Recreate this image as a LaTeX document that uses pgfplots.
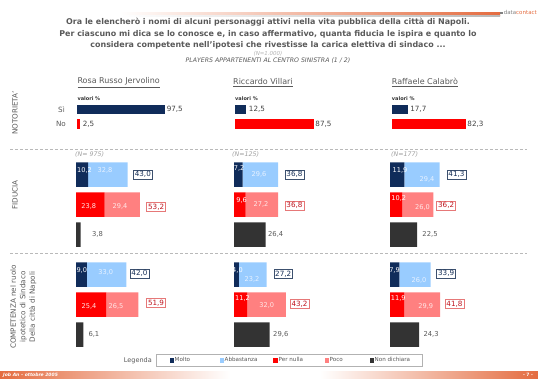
\documentclass[border=0pt]{standalone}
\usepackage{pgfplots}
\pgfplotsset{compat=1.18}
\usepackage{pgfplotstable}
\usepackage{fontspec}
\setmainfont{DejaVu Sans}

\definecolor{navy}{RGB}{16,44,90}
\definecolor{lblue}{RGB}{153,204,255}
\definecolor{pred}{RGB}{255,0,0}
\definecolor{ppink}{RGB}{255,128,128}
\definecolor{dgray}{RGB}{51,51,51}
\definecolor{txtgray}{RGB}{89,89,89}
\definecolor{txtdark}{RGB}{64,64,64}
\definecolor{orng}{RGB}{228,108,64}
\definecolor{bluebox}{RGB}{60,80,110}
\definecolor{bluetxt}{RGB}{20,45,85}
\definecolor{redbox}{RGB}{230,120,120}
\definecolor{redtxt}{RGB}{190,20,30}
\definecolor{lbtxt}{RGB}{232,242,255}
\definecolor{rdtxt}{RGB}{255,228,228}
\definecolor{pktxt}{RGB}{255,232,232}

% Fiducia rows: -174.7 -204.5 -234.5 ; Competenza rows: -274.5 -304.5 -334.5
\pgfplotstableread{
y molto abb nulla poco nd
-174.7 10.2 32.8 0 0 0
-204.5 0 0 23.8 29.4 0
-234.5 0 0 0 0 3.8
-274.5 9.0 33.0 0 0 0
-304.5 0 0 25.4 26.5 0
-334.5 0 0 0 0 6.1
}\jervFC
\pgfplotstableread{
y molto abb nulla poco nd
-174.7 7.2 29.6 0 0 0
-204.5 0 0 9.6 27.2 0
-234.5 0 0 0 0 26.4
-274.5 4.0 23.2 0 0 0
-304.5 0 0 11.2 32.0 0
-334.5 0 0 0 0 29.6
}\villFC
\pgfplotstableread{
y molto abb nulla poco nd
-174.7 11.9 29.4 0 0 0
-204.5 0 0 10.2 26.0 0
-234.5 0 0 0 0 22.5
-274.5 7.9 26.0 0 0 0
-304.5 0 0 11.9 29.9 0
-334.5 0 0 0 0 24.3
}\calaFC
\pgfplotstableread{
y si no
-109.5 97.5 0
-124 0 2.5
}\jervN
\pgfplotstableread{
y si no
-109.5 12.5 0
-124 0 87.5
}\villN
\pgfplotstableread{
y si no
-109.5 17.7 0
-124 0 82.3
}\calaN

\pgfplotsset{
  panel/.style={hide axis, clip=false, xmin=0, xmax=100, ymin=-378, ymax=0,
    x=1.2pt, y=1pt, anchor=north west, xbar stacked, bar width=24.5pt},
  lpanel/.style={hide axis, clip=false, xmin=0, xmax=100, ymin=-378, ymax=0,
    x=1.2pt, y=1pt, anchor=north west},
  npanel/.style={hide axis, clip=false, xmin=0, xmax=100, ymin=-378, ymax=0,
    x=0.9pt, y=1pt, anchor=north west, xbar stacked, bar width=9.5pt},
}
\newcommand{\fcbars}[1]{%
  \addplot[fill=navy, draw=none] table[x=molto, y=y]{#1};
  \addplot[fill=pred, draw=none] table[x=nulla, y=y]{#1};
  \addplot[fill=dgray, draw=none] table[x=nd, y=y]{#1};
  \addplot[fill=lblue, draw=none] table[x=abb, y=y]{#1};
  \addplot[fill=ppink, draw=none] table[x=poco, y=y]{#1};
}
\newcommand{\nbars}[1]{%
  \addplot[fill=navy, draw=none] table[x=si, y=y]{#1};
  \addplot[fill=pred, draw=none] table[x=no, y=y]{#1};
}
\newcommand{\inl}[4]{\node[font=\fontsize{6.6}{7}\selectfont, text=#4, inner sep=0pt] at (axis cs:#1,#2) {#3};}
\newcommand{\bx}[4]{\node[draw=#4box, text=#4txt, fill=white, font=\fontsize{7.2}{8}\selectfont, inner xsep=1.4pt, inner ysep=1.2pt, line width=0.5pt] at (axis cs:#1,#2) {#3};}
\newcommand{\ndl}[3]{\node[anchor=west, font=\fontsize{6.8}{8}\selectfont, text=txtgray, inner sep=0pt] at (axis cs:#1,#2) {#3};}
\newcommand{\nvl}[4]{\node[anchor=west, font=\fontsize{7.2}{8}\selectfont, text=txtdark, inner sep=0pt, xshift=#4] at (axis cs:#1,#2) {#3};}

\begin{document}
\begin{tikzpicture}[x=1pt,y=1pt]
\useasboundingbox (0,0) rectangle (538,-378);

% header band
\shade[left color=white, right color=orng] (120,-12.5) rectangle (500,-15);
\shade[left color=white, right color=gray!55] (120,-15) rectangle (500,-16.5);
\node[anchor=east, font=\fontsize{5.5}{6}\selectfont, inner sep=0pt] at (537,-12) {\textcolor{gray}{\rule{2.5pt}{2.5pt}\,data}\textcolor{orng}{contact}};

% title
\node[font=\fontsize{7.95}{9}\selectfont\bfseries, text=txtgray] at (268,-22.5) {Ora le elencherò i nomi di alcuni personaggi attivi nella vita pubblica della città di Napoli.};
\node[font=\fontsize{7.95}{9}\selectfont\bfseries, text=txtgray] at (268,-34) {Per ciascuno mi dica se lo conosce e, in caso affermativo, quanta fiducia le ispira e quanto lo};
\node[font=\fontsize{7.95}{9}\selectfont\bfseries, text=txtgray] at (268,-45) {considera competente nell’ipotesi che rivestisse la carica elettiva di sindaco ...};
\node[font=\fontsize{5.5}{6}\selectfont\itshape, text=gray!60] at (268,-53.3) {(N=1.000)};
\node[font=\fontsize{6.2}{7}\selectfont\itshape, text=txtgray] at (268,-61) {PLAYERS APPARTENENTI AL CENTRO SINISTRA (1 / 2)};

% column headers
\foreach \xx/\nm in {77.3/Rosa Russo Jervolino, 233/Riccardo Villari, 391.7/Raffaele Calabrò}{
  \node[anchor=west, font=\fontsize{8}{9}\selectfont, text=txtgray, inner sep=0pt] at (\xx,-82.5) {\underline{\nm}};
}
\foreach \xx in {77.3,235,391.7}{
  \node[anchor=west, font=\fontsize{5}{6}\selectfont\bfseries, text=black!80, inner sep=0pt] at (\xx,-98.3) {valori \%};
}
\node[anchor=east, font=\fontsize{7.2}{8}\selectfont, text=txtgray, inner sep=0pt] at (65,-109.5) {Sì};
\node[anchor=east, font=\fontsize{7.2}{8}\selectfont, text=txtgray, inner sep=0pt] at (66,-124) {No};

% side labels
\node[rotate=90, font=\fontsize{7.2}{8}\selectfont, text=txtgray] at (15,-113) {NOTORIETA'};
\node[rotate=90, font=\fontsize{7.2}{8}\selectfont, text=txtgray] at (15,-195) {FIDUCIA};
\node[rotate=90, align=center, font=\fontsize{7.2}{9.5}\selectfont, text=txtgray] at (23.5,-307) {COMPETENZA nel ruolo\\ipotetico di Sindaco\\Della città di Napoli};

% separators
\draw[gray!55, line width=0.5pt, dash pattern=on 3pt off 2pt] (10,-149) -- (527,-149);
\draw[gray!55, line width=0.5pt, dash pattern=on 3pt off 2pt] (10,-253) -- (527,-253);

% sample sizes
\node[anchor=west, font=\fontsize{6.3}{7}\selectfont\itshape, text=gray!75, inner sep=0pt] at (75,-155) {(N= 975)};
\node[anchor=west, font=\fontsize{6.3}{7}\selectfont\itshape, text=gray!75, inner sep=0pt] at (232,-155) {(N=125)};
\node[anchor=west, font=\fontsize{6.3}{7}\selectfont\itshape, text=gray!75, inner sep=0pt] at (391,-155) {(N=177)};

% ---------- Notorieta ----------
\begin{axis}[npanel, at={(77.3pt,0pt)}]
\nbars{\jervN}
\nvl{97.5}{-109.5}{97,5}{1.5pt}
\nvl{2.5}{-124}{2,5}{3pt}
\end{axis}
\begin{axis}[npanel, at={(235pt,0pt)}]
\nbars{\villN}
\nvl{12.5}{-109.5}{12,5}{2.5pt}
\nvl{87.5}{-124}{87,5}{1.5pt}
\end{axis}
\begin{axis}[npanel, at={(391.7pt,0pt)}]
\nbars{\calaN}
\nvl{17.7}{-109.5}{17,7}{2.5pt}
\nvl{82.3}{-124}{82,3}{1.5pt}
\end{axis}

% ---------- Fiducia / Competenza bars ----------
\begin{axis}[panel, at={(76pt,0pt)}]
\fcbars{\jervFC}
\end{axis}
\begin{axis}[panel, at={(234pt,0pt)}]
\fcbars{\villFC}
\end{axis}
\begin{axis}[panel, at={(390pt,0pt)}]
\fcbars{\calaFC}
\end{axis}

% ---------- labels on top of the bars ----------
\begin{axis}[lpanel, at={(76pt,0pt)}]
\inl{7.1}{-170}{10,2}{white}
\inl{24.2}{-170.5}{32,8}{lbtxt}
\inl{10.7}{-206.5}{23,8}{rdtxt}
\inl{36.7}{-206.5}{29,4}{pktxt}
\bx{55.7}{-174.5}{43,0}{blue}
\bx{66.8}{-207}{53,2}{red}
\ndl{13.3}{-234.5}{3,8}
\inl{4.8}{-270}{9,0}{white}
\inl{24.8}{-272}{33,0}{lbtxt}
\inl{10.8}{-306.5}{25,4}{rdtxt}
\inl{33.3}{-306.5}{26,5}{pktxt}
\bx{52.9}{-273.5}{42,0}{blue}
\bx{66.7}{-303}{51,9}{red}
\ndl{10.25}{-334}{6,1}
\end{axis}
\begin{axis}[lpanel, at={(234pt,0pt)}]
\inl{4.3}{-168.5}{7,2}{white}
\inl{20.8}{-174.5}{29,6}{lbtxt}
\inl{6.4}{-200}{9,6}{white}
\inl{22.5}{-204.5}{27,2}{pktxt}
\bx{50.4}{-174.5}{36,8}{blue}
\bx{50.4}{-205.5}{36,8}{red}
\ndl{28.3}{-234}{26,4}
\inl{2.9}{-270}{4,0}{white}
\inl{15}{-279}{23,2}{lbtxt}
\inl{7.1}{-298.3}{11,2}{white}
\inl{27.25}{-305.7}{32,0}{pktxt}
\bx{41}{-274}{27,2}{blue}
\bx{54.6}{-304}{43,2}{red}
\ndl{32.5}{-334}{29,6}
\end{axis}
\begin{axis}[lpanel, at={(390pt,0pt)}]
\inl{8.3}{-170}{11,9}{white}
\inl{30.8}{-179}{29,4}{lbtxt}
\inl{7.25}{-198.3}{10,2}{white}
\inl{27.1}{-207.7}{26,0}{pktxt}
\bx{55.4}{-174.5}{41,3}{blue}
\bx{46.8}{-205.5}{36,2}{red}
\ndl{26.9}{-234}{22,5}
\inl{3.75}{-270}{7,9}{white}
\inl{24.2}{-280}{26,0}{lbtxt}
\inl{6.9}{-298.3}{11,9}{white}
\inl{29.8}{-306}{29,9}{pktxt}
\bx{46.8}{-273.7}{33,9}{blue}
\bx{53.75}{-304}{41,8}{red}
\ndl{27.75}{-334}{24,3}
\end{axis}

% ---------- Legend ----------
\node[anchor=east, font=\fontsize{6.5}{7}\selectfont, text=txtgray, inner sep=0pt] at (152,-360.5) {Legenda};
\begin{axis}[at={(289.5pt,-360.5pt)}, anchor=center, hide axis, scale only axis,
  width=10pt, height=5pt, xmin=0, xmax=1, ymin=0, ymax=1,
  legend columns=5,
  legend image code/.code={\fill[#1] (0pt,-2.2pt) rectangle (4.4pt,2.2pt);},
  legend style={at={(0.5,0.5)}, anchor=center, draw=gray!60, line width=0.4pt, fill=white,
    inner xsep=13pt, inner ysep=2.5pt, font=\fontsize{5.6}{6}\selectfont, text=txtgray,
    /tikz/every even column/.append style={column sep=0pt},
    nodes={inner sep=0.8pt}},
]
\addlegendimage{fill=navy, draw=none}\addlegendentry{\makebox[44pt][l]{Molto}}
\addlegendimage{fill=lblue, draw=none}\addlegendentry{\makebox[48pt][l]{Abbastanza}}
\addlegendimage{fill=pred, draw=none}\addlegendentry{\makebox[45pt][l]{Per nulla}}
\addlegendimage{fill=ppink, draw=none}\addlegendentry{\makebox[39pt][l]{Poco}}
\addlegendimage{fill=dgray, draw=none}\addlegendentry{\makebox[34pt][l]{Non dichiara}}
\end{axis}

% footer
\shade[left color=orng, right color=white] (0,-371.5) rectangle (230,-378);
\shade[left color=white, right color=orng] (320,-371.5) rectangle (538,-378);
\node[anchor=west, font=\fontsize{4.5}{5}\selectfont\bfseries\itshape, text=white, inner sep=0pt] at (3,-374.8) {Job An -- ottobre 2005};
\node[font=\fontsize{4.5}{5}\selectfont\bfseries, text=white, inner sep=0pt] at (528,-374.8) {- 7 -};
\end{tikzpicture}
\end{document}
